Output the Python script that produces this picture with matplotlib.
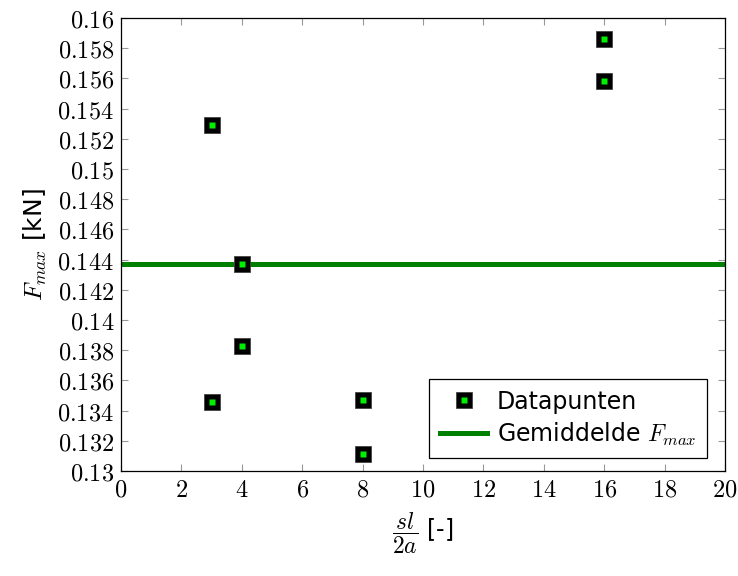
import matplotlib
matplotlib.use('Agg')
import matplotlib.pyplot as plt
from matplotlib.lines import Line2D

plt.rcParams['mathtext.fontset'] = 'cm'
plt.rcParams['font.family'] = 'DejaVu Sans'

# Data
x_vals = [3, 3, 4, 4, 8, 8, 16, 16]
f_max = [0.1529, 0.1346, 0.1437, 0.1383, 0.1347, 0.1311, 0.1586, 0.1558]
f_mean = 0.1437

x_ticks = list(range(0, 21, 2))
y_ticks = [0.13, 0.132, 0.134, 0.136, 0.138, 0.14, 0.142, 0.144, 0.146,
           0.148, 0.15, 0.152, 0.154, 0.156, 0.158, 0.16]
y_tick_labels = ['0.13', '0.132', '0.134', '0.136', '0.138', '0.14', '0.142',
                 '0.144', '0.146', '0.148', '0.15', '0.152', '0.154', '0.156',
                 '0.158', '0.16']

fig = plt.figure(figsize=(7.38, 5.76), dpi=100)
ax = fig.add_axes([121 / 738, 1 - 471 / 576, 604 / 738, 453 / 576])

ax.axhline(f_mean, color='#008000', lw=3.6, zorder=2)
ax.plot(x_vals, f_max, ls='none', marker='s', ms=11, mfc='black', mec='#444444',
        mew=0.6, zorder=3)
ax.plot(x_vals, f_max, ls='none', marker='s', ms=3.8, mfc='#00ee00', mec='none',
        zorder=4)

ax.set_xlim(0, 20)
ax.set_ylim(0.13, 0.16)
ax.set_xticks(x_ticks)
ax.set_xticklabels(['$%d$' % t for t in x_ticks])
ax.set_yticks(y_ticks)
ax.set_yticklabels(['$%s$' % t for t in y_tick_labels])
ax.tick_params(direction='in', top=True, right=True, length=5, width=0.8,
               color='#999999', labelsize=17.5, pad=5)
for sp in ax.spines.values():
    sp.set_linewidth(0.9)

ax.set_xlabel(r'$\dfrac{sl}{2a}$ [-]', fontsize=17, labelpad=6)
ax.set_ylabel(r'$F_{max}$ [kN]', fontsize=18, labelpad=6)

handles = [
    (Line2D([], [], ls='none', marker='s', ms=11, mfc='black', mec='#444444', mew=0.6),
     Line2D([], [], ls='none', marker='s', ms=3.8, mfc='#00ee00', mec='none')),
    Line2D([], [], color='#008000', lw=3.6),
]
leg = ax.legend(handles, ['Datapunten', r'Gemiddelde $F_{max}$'], loc='lower right',
                bbox_to_anchor=(0.97, 0.028), fontsize=17, fancybox=False,
                edgecolor='black', framealpha=1, handlelength=2.0,
                handletextpad=0.4, borderpad=0.45, labelspacing=0.3,
                borderaxespad=0)
leg.get_frame().set_linewidth(0.9)

fig.savefig('out.png', dpi=100)
